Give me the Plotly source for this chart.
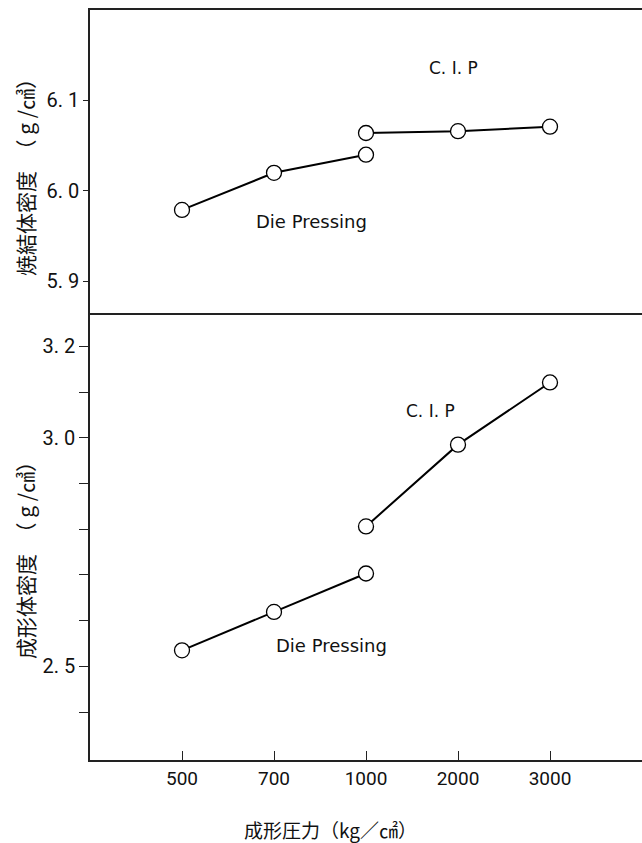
import plotly.graph_objects as go

# ---- data ----
pressures = ["500", "700", "1000", "2000", "3000"]
dp_pressures = ["500", "700", "1000"]
cip_pressures = ["1000", "2000", "3000"]

sintered_dp = [5.979, 6.020, 6.040]
sintered_cip = [6.064, 6.066, 6.071]

green_dp = [2.535, 2.619, 2.703]
green_cip = [2.806, 2.985, 3.121]

top_tickvals = [5.9, 6.0, 6.1]
top_ticktext = ["5. 9", "6. 0", "6. 1"]
bot_tickvals = [2.4, 2.5, 2.6, 2.7, 2.8, 2.9, 3.0, 3.1, 3.2]
bot_ticktext = ["", "2. 5", "", "", "", "", "3. 0", "", "3. 2"]

NUM_FONT = "Roboto, Liberation Sans, sans-serif"
TXT_FONT = "DejaVu Sans, sans-serif"
JP_FONT = "Noto Sans CJK JP, sans-serif"

line_style = dict(color="black", width=2)
marker_style = dict(symbol="circle", size=15, color="white",
                    line=dict(color="black", width=1.3))

fig = go.Figure()

# bottom panel (green density)
fig.add_trace(go.Scatter(x=dp_pressures, y=green_dp, mode="lines+markers",
                         line=line_style, marker=marker_style,
                         xaxis="x", yaxis="y", showlegend=False))
fig.add_trace(go.Scatter(x=cip_pressures, y=green_cip, mode="lines+markers",
                         line=line_style, marker=marker_style,
                         xaxis="x", yaxis="y", showlegend=False))
# top panel (sintered density)
fig.add_trace(go.Scatter(x=dp_pressures, y=sintered_dp, mode="lines+markers",
                         line=line_style, marker=marker_style,
                         xaxis="x2", yaxis="y2", showlegend=False))
fig.add_trace(go.Scatter(x=cip_pressures, y=sintered_cip, mode="lines+markers",
                         line=line_style, marker=marker_style,
                         xaxis="x2", yaxis="y2", showlegend=False))

axis_line = dict(showline=True, linecolor="#222", linewidth=1.5,
                 showgrid=False, zeroline=False)

split = 0.596

fig.update_layout(
    width=642, height=843,
    margin=dict(l=90, r=0, t=10, b=83),
    paper_bgcolor="white", plot_bgcolor="white",
    xaxis=dict(type="category", categoryarray=pressures, range=[-1, 5],
               anchor="y", domain=[0, 1],
               ticks="inside", ticklen=9, tickwidth=1.3, tickcolor="#222",
               tickfont=dict(family=NUM_FONT, size=19, color="#111"),
               **axis_line),
    xaxis2=dict(type="category", categoryarray=pressures, range=[-1, 5],
                matches="x", anchor="y2", domain=[0, 1],
                showticklabels=False, ticks="", mirror=True,
                **axis_line),
    yaxis=dict(domain=[0, split], range=[2.295, 3.273], anchor="x",
               tickmode="array", tickvals=bot_tickvals, ticktext=bot_ticktext,
               ticks="outside", ticklen=9, tickwidth=1.3, tickcolor="#222",
               tickfont=dict(family=NUM_FONT, size=20, color="#111"),
               **axis_line),
    yaxis2=dict(domain=[split, 1], range=[5.865, 6.2], anchor="x2",
                tickmode="array", tickvals=top_tickvals, ticktext=top_ticktext,
                ticks="outside", ticklen=5, tickwidth=1.3, tickcolor="#222",
                tickfont=dict(family=NUM_FONT, size=20, color="#111"),
                **axis_line),
)

annotations = [
    dict(text="C. I. P", x=2.95, y=6.136, xref="x2", yref="y2", size=17),
    dict(text="Die Pressing", x=1.41, y=5.966, xref="x2", yref="y2", size=18),
    dict(text="C. I. P", x=2.70, y=3.059, xref="x", yref="y", size=17),
    dict(text="Die Pressing", x=1.62, y=2.546, xref="x", yref="y", size=18),
]
for a in annotations:
    sz = a.pop("size")
    fig.add_annotation(showarrow=False, font=dict(family=TXT_FONT, size=sz, color="#111"),
                       xanchor="center", yanchor="middle", **a)

# axis titles
fig.add_annotation(text="焼結体密度　（ g /㎤）", textangle=-90,
                   xref="paper", yref="paper", x=(25 - 90) / 552, y=(760 - 172) / 750,
                   showarrow=False, xanchor="center", yanchor="middle",
                   font=dict(family=JP_FONT, size=21, color="#111"))
fig.add_annotation(text="成形体密度　（ g /㎤）", textangle=-90,
                   xref="paper", yref="paper", x=(25 - 90) / 552, y=(760 - 555) / 750,
                   showarrow=False, xanchor="center", yanchor="middle",
                   font=dict(family=JP_FONT, size=21, color="#111"))
fig.add_annotation(text="成形圧力（kg／㎠）",
                   xref="paper", yref="paper", x=(330 - 90) / 552, y=(760 - 829) / 750,
                   showarrow=False, xanchor="center", yanchor="middle",
                   font=dict(family=JP_FONT, size=19, color="#111"))

fig.write_html("out.html", config={"displayModeBar": False},
               post_script="document.body.style.margin='0';document.body.style.overflow='hidden';")
